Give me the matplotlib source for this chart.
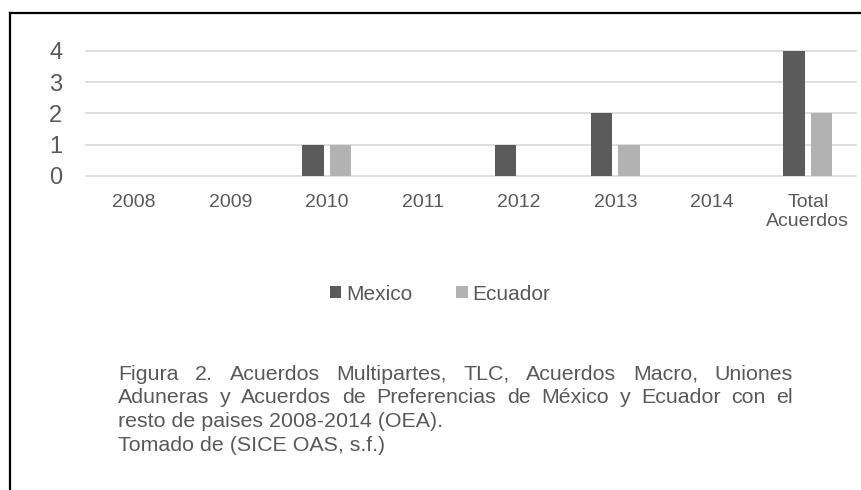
import matplotlib
matplotlib.use('Agg')
import matplotlib.pyplot as plt
import numpy as np
from matplotlib.patches import Patch
from matplotlib.lines import Line2D

# ---- data ----
categories = ['2008', '2009', '2010', '2011', '2012', '2013', '2014', 'Total\nAcuerdos']
mexico = [0, 0, 1, 0, 1, 2, 0, 4]
ecuador = [0, 0, 1, 0, 0, 1, 0, 2]
yticks = [0, 1, 2, 3, 4]
series_names = ['Mexico', 'Ecuador']
caption_justified = [
    "Figura 2. Acuerdos Multipartes, TLC, Acuerdos Macro, Uniones",
    "Aduneras y Acuerdos de Preferencias de México y Ecuador con el",
]
caption_plain = [
    "resto de paises 2008-2014 (OEA).",
    "Tomado de (SICE OAS, s.f.)",
]

plt.rcParams['font.family'] = ['Liberation Sans', 'DejaVu Sans']

W, H = 862, 490
fig = plt.figure(figsize=(W / 100, H / 100), dpi=100)
fig.patch.set_facecolor('white')

c_mex = '#5b5b5b'
c_ecu = '#b2b2b2'
c_txt = '#595959'

ax = fig.add_axes([86 / W, 1 - 176 / H, (856 - 86) / W, 125 / H])
x = np.arange(len(categories))
bw = 0.223
off = 0.143
ax.bar(x - off, mexico, bw, color=c_mex, zorder=3, linewidth=0)
ax.bar(x + off, ecuador, bw, color=c_ecu, zorder=3, linewidth=0)
ax.set_xlim(-0.5, len(categories) - 0.5)
ax.set_ylim(0, 4)
ax.set_yticks(yticks)
ax.set_xticks(x)
ax.set_xticklabels(categories, linespacing=1.12)
ax.grid(axis='y', color='#d9d9d9', lw=1.2, zorder=0)
ax.grid(axis='x', visible=False)
for l in ax.get_ygridlines():
    l.set_clip_on(False)
for s in ax.spines.values():
    s.set_visible(False)
ax.tick_params(axis='y', length=0, pad=17, labelsize=17, labelcolor=c_txt)
ax.tick_params(axis='x', length=0, pad=13, labelsize=14, labelcolor=c_txt)

# legend
handles = [Patch(facecolor=c_mex, edgecolor='none'), Patch(facecolor=c_ecu, edgecolor='none')]
fig.legend(handles, series_names, loc='center', bbox_to_anchor=(440 / W, 1 - 294 / H),
           ncol=2, frameon=False, fontsize=15, labelcolor=c_txt,
           handlelength=0.55, handleheight=0.55, handletextpad=0.22,
           columnspacing=2.1, borderpad=0, borderaxespad=0)

# caption
renderer = fig.canvas.get_renderer()
cap_fs = 15.4
left_px, right_px = 118, 793
baselines = [379.5, 403, 427, 451]

def place_justified(text, y_px):
    words = text.split(' ')
    objs = [fig.text(0, 0, w, fontsize=cap_fs, color=c_txt, ha='left', va='baseline')
            for w in words]
    widths = [o.get_window_extent(renderer).width for o in objs]
    gap = (right_px - left_px - sum(widths)) / (len(words) - 1)
    xp = left_px
    for o, w in zip(objs, widths):
        o.set_position((xp / W, 1 - y_px / H))
        xp += w + gap

for i, t in enumerate(caption_justified):
    place_justified(t, baselines[i])
for j, t in enumerate(caption_plain):
    fig.text(left_px / W, 1 - baselines[len(caption_justified) + j] / H, t,
             fontsize=cap_fs, color=c_txt, ha='left', va='baseline')

# frame lines (left and top)
fig.add_artist(Line2D([10.5 / W, 10.5 / W], [0, 1 - 13 / H], color='black', lw=1.6,
                      solid_capstyle='projecting'))
fig.add_artist(Line2D([10.5 / W, 1], [1 - 13 / H, 1 - 13 / H], color='black', lw=1.6,
                      solid_capstyle='projecting'))

fig.savefig('out.png', dpi=100)
